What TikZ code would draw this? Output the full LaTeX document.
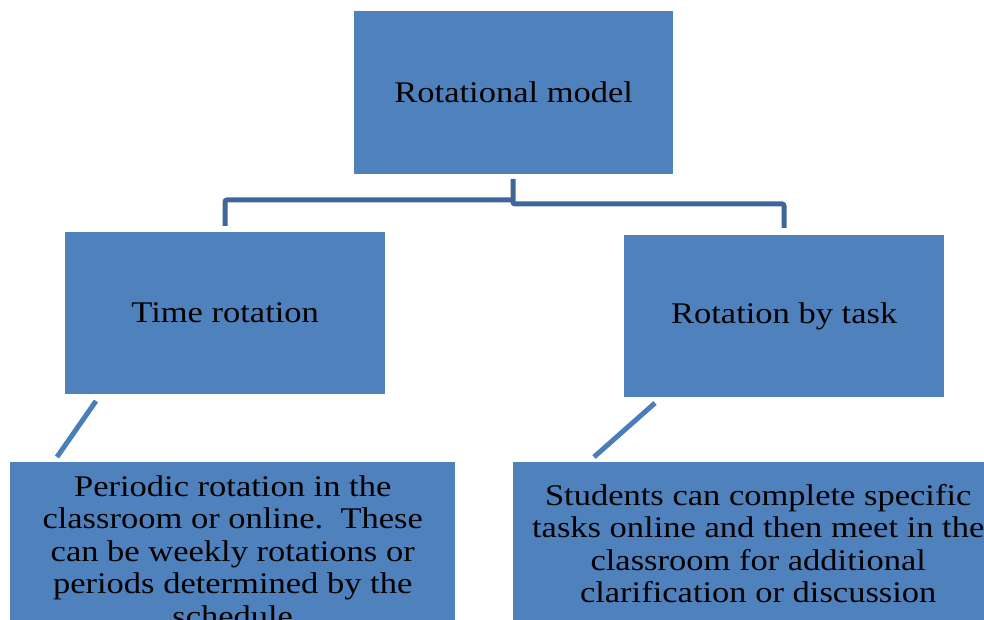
\documentclass[tikz,border=0pt]{standalone}
\usepackage{fontspec}
\setmainfont[FakeStretch=1.15]{Liberation Serif}
\definecolor{boxblue}{HTML}{4F81BD}
\definecolor{linkblue}{HTML}{3E6698}
\definecolor{diagblue}{HTML}{4A7EBB}
\begin{document}
\begin{tikzpicture}[x=1pt,y=-1pt,
  box/.style={fill=boxblue, draw=none, inner sep=0pt, anchor=north west, align=center,
    font=\fontsize{30}{32.5}\selectfont},
  elbow/.style={draw=linkblue, line width=5pt, rounded corners=2pt},
  diag/.style={draw=diagblue, line width=5pt}]
\useasboundingbox (0,0) rectangle (984,620);
\clip (0,0) rectangle (984,620);
\node[box, minimum width=319pt, minimum height=163pt] (top) at (354,11) {Rotational model};
\node[box, minimum width=320pt, minimum height=162pt] (time) at (65,232) {Time rotation};
\node[box, minimum width=320pt, minimum height=162pt] (task) at (624,235) {Rotation by task};
\node[box, minimum width=445pt, minimum height=178pt] (tdesc) at (10,462)
  {Periodic rotation in the\\ classroom or online.\ \ These\\ can be weekly rotations or\\ periods determined by the\\ schedule};
\node[box, minimum width=490pt, minimum height=163pt] (kdesc) at (513,462)
  {Students can complete specific\\ tasks online and then meet in the\\ classroom for additional\\ clarification or discussion};
\coordinate (c0) at (513,179);
\coordinate (cl) at (513,200);
\coordinate (cr) at (513,204);
\coordinate (tl) at (225,226);
\coordinate (tr) at (784,228);
\draw[elbow] (c0) -- (cr) -| (tr);
\draw[elbow] (cl) -| (tl);
\coordinate (d1a) at (96,401);
\coordinate (d1b) at (57,457);
\coordinate (d2a) at (655,403);
\coordinate (d2b) at (594,457);
\draw[diag] (d1a) -- (d1b);
\draw[diag] (d2a) -- (d2b);
\end{tikzpicture}
\end{document}
